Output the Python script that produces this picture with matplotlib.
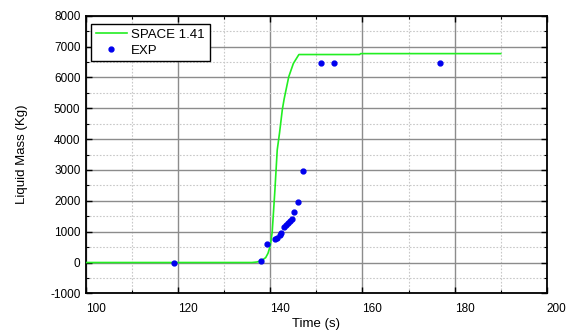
import matplotlib
matplotlib.use("Agg")
import matplotlib.pyplot as plt
from matplotlib.ticker import MultipleLocator

plt.rcParams['font.family'] = ['Liberation Sans', 'DejaVu Sans']
plt.rcParams['axes.unicode_minus'] = False

sim_t = [100, 136, 137, 138, 139, 139.5, 140, 140.4, 141, 141.5, 142, 142.6, 143, 144, 145, 146.2, 159.4, 159.6, 190]
sim_m = [0, 0, 15, 50, 160, 300, 550, 970, 2360, 3650, 4200, 4950, 5300, 6020, 6450, 6740, 6740, 6770, 6770]

exp_t = [119.0, 138.0, 139.3, 141.0, 141.5, 142.1, 142.4, 143.0, 143.5, 143.8, 144.2, 144.6, 145.2, 145.9, 147.2, 150.9, 153.8, 176.9]
exp_m = [0, 40, 600, 750, 800, 880, 970, 1140, 1210, 1270, 1330, 1420, 1650, 1950, 2980, 6450, 6460, 6470]

fig = plt.figure(figsize=(5.66, 3.33), dpi=100)
ax = fig.add_axes([0.152, 0.119, 0.814, 0.834])

ax.plot(sim_t, sim_m, color='#22ee22', lw=1.2, label='SPACE 1.41', zorder=3)
ax.plot(exp_t, exp_m, 'o', color='#0000ee', ms=3.5, mec='#0000ee', label='EXP', zorder=4)

ax.set_xlim(100, 200)
ax.set_ylim(-1000, 8000)
ax.xaxis.set_major_locator(MultipleLocator(20))
ax.xaxis.set_minor_locator(MultipleLocator(10))
ax.yaxis.set_major_locator(MultipleLocator(1000))
ax.yaxis.set_minor_locator(MultipleLocator(500))

ax.grid(which='major', color='#8c8c8c', lw=1.0, ls='-')
ax.grid(which='minor', color='#c8c8c8', lw=0.8, ls=(0, (1.5, 1.5)))
ax.set_axisbelow(True)

ax.tick_params(which='both', direction='in', top=True, right=True, labelsize=8.5, colors='black')
ax.tick_params(which='major', length=4, width=1)
ax.tick_params(which='minor', length=2.5, width=0.8)
ax.tick_params(axis='x', pad=7)
ax.tick_params(axis='y', pad=4)
for sp in ax.spines.values():
    sp.set_linewidth(1.3)

ax.set_xlabel('Time (s)', fontsize=9.5, labelpad=2)
ax.set_ylabel('Liquid Mass (Kg)', fontsize=9.5, labelpad=16)

leg = ax.legend(loc='upper left', bbox_to_anchor=(5/461, 1 - 8/277.7), borderaxespad=0,
                fontsize=9.5, frameon=True, fancybox=False,
                edgecolor='black', framealpha=1, borderpad=0.35, handlelength=2.4,
                labelspacing=0.3, handletextpad=0.3)
leg.get_frame().set_linewidth(1.0)

plt.setp(ax.get_xticklabels(), ha='left')

fig.savefig('out.png', dpi=100)
